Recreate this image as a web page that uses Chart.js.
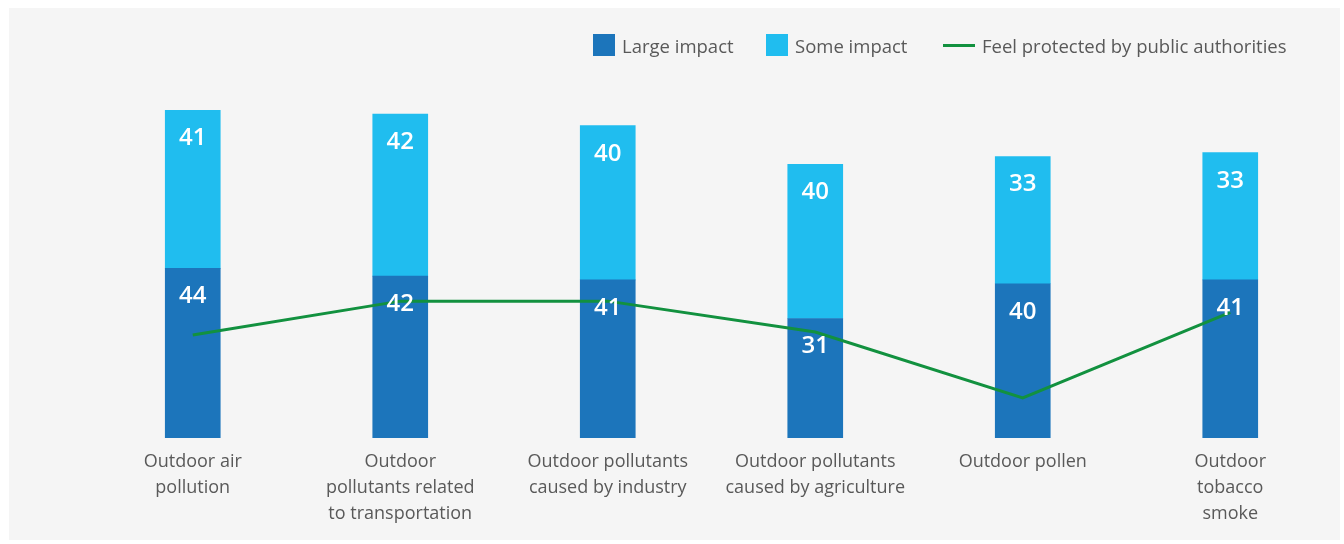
<!DOCTYPE html>
<html>
<head>
<meta charset="utf-8">
<script src="https://cdn.jsdelivr.net/npm/chart.js@4/dist/chart.umd.min.js"></script>
<style>
	body { margin: 0; background: #ffffff; width: 1344px; height: 544px; position: relative; overflow: hidden; font-family: "Open Sans", sans-serif; }
	#panel { position: absolute; left: 9px; top: 8px; width: 1331px; height: 532px; background: #f5f5f5; }
	.leg { position: absolute; top: 34px; height: 22px; display: flex; align-items: center; font-size: 18.5px; color: #595959; white-space: nowrap; }
	.leg .box { width: 22px; height: 22px; margin-right: 7px; }
	.leg .ln { width: 32px; height: 3px; margin-right: 7px; }
</style>
</head>
<body>
<div id="panel"><canvas id="chartOne" width="1331" height="532"></canvas></div>
<div class="leg" style="left:593px"><span class="box" style="background:#1c75bb"></span>Large impact</div>
<div class="leg" style="left:766px"><span class="box" style="background:#20bdef"></span>Some impact</div>
<div class="leg" style="left:943px"><span class="ln" style="background:#12913f"></span>Feel protected by public authorities</div>
<script>
var categories = [
	["Outdoor air", "pollution"],
	["Outdoor", "pollutants related", "to transportation"],
	["Outdoor pollutants", "caused by industry"],
	["Outdoor pollutants", "caused by agriculture"],
	["Outdoor pollen"],
	["Outdoor", "tobacco", "smoke"]
];
var largeImpact = [44, 42, 41, 31, 40, 41];
var someImpact = [41, 42, 40, 40, 33, 33];
var feelProtected = [26.7, 35.5, 35.5, 27.5, 10.4, 32.6];

// white numbers near the top of each bar segment
const barLabels = {
	id: "barLabels",
	afterDatasetsDraw(chart) {
		const ctx = chart.ctx;
		ctx.save();
		ctx.fillStyle = "#ffffff";
		ctx.font = "600 24px 'Open Sans'";
		ctx.textAlign = "center";
		ctx.textBaseline = "middle";
		chart.data.datasets.forEach((ds, i) => {
			if (ds.type !== "bar") return;
			chart.getDatasetMeta(i).data.forEach((el, j) => {
				ctx.fillText(String(ds.data[j]), el.x, el.y + 28);
			});
		});
		ctx.restore();
	}
};

new Chart(document.getElementById("chartOne"), {
	data: {
		labels: categories,
		datasets: [{
			type: "line",
			label: "Feel protected by public authorities",
			data: feelProtected,
			borderColor: "#12913f",
			borderWidth: 3,
			pointRadius: 0,
			tension: 0,
			stack: "line",
			order: 0
		},
		{
			type: "bar",
			label: "Large impact",
			data: largeImpact,
			backgroundColor: "#1c75bb",
			barThickness: 55,
			stack: "bars",
			order: 1
		},
		{
			type: "bar",
			label: "Some impact",
			data: someImpact,
			backgroundColor: "#20bdef",
			barThickness: 55,
			stack: "bars",
			order: 1
		}]
	},
	options: {
		responsive: false,
		animation: false,
		devicePixelRatio: 1,
		layout: { padding: { left: 80, right: 6, top: 83, bottom: 0 } },
		plugins: {
			legend: { display: false },
			tooltip: { enabled: false }
		},
		scales: {
			x: {
				stacked: true,
				grid: { display: false, drawTicks: false },
				border: { display: false },
				ticks: {
					color: "#595959",
					font: { family: "'Open Sans'", size: 18, lineHeight: 1.45 },
					padding: 11,
					maxRotation: 0,
					autoSkip: false
				},
				afterFit: s => { s.height = 102; }
			},
			y: {
				stacked: true,
				display: false,
				min: 0,
				max: 90
			}
		}
	},
	plugins: [barLabels]
});
</script>
</body>
</html>
